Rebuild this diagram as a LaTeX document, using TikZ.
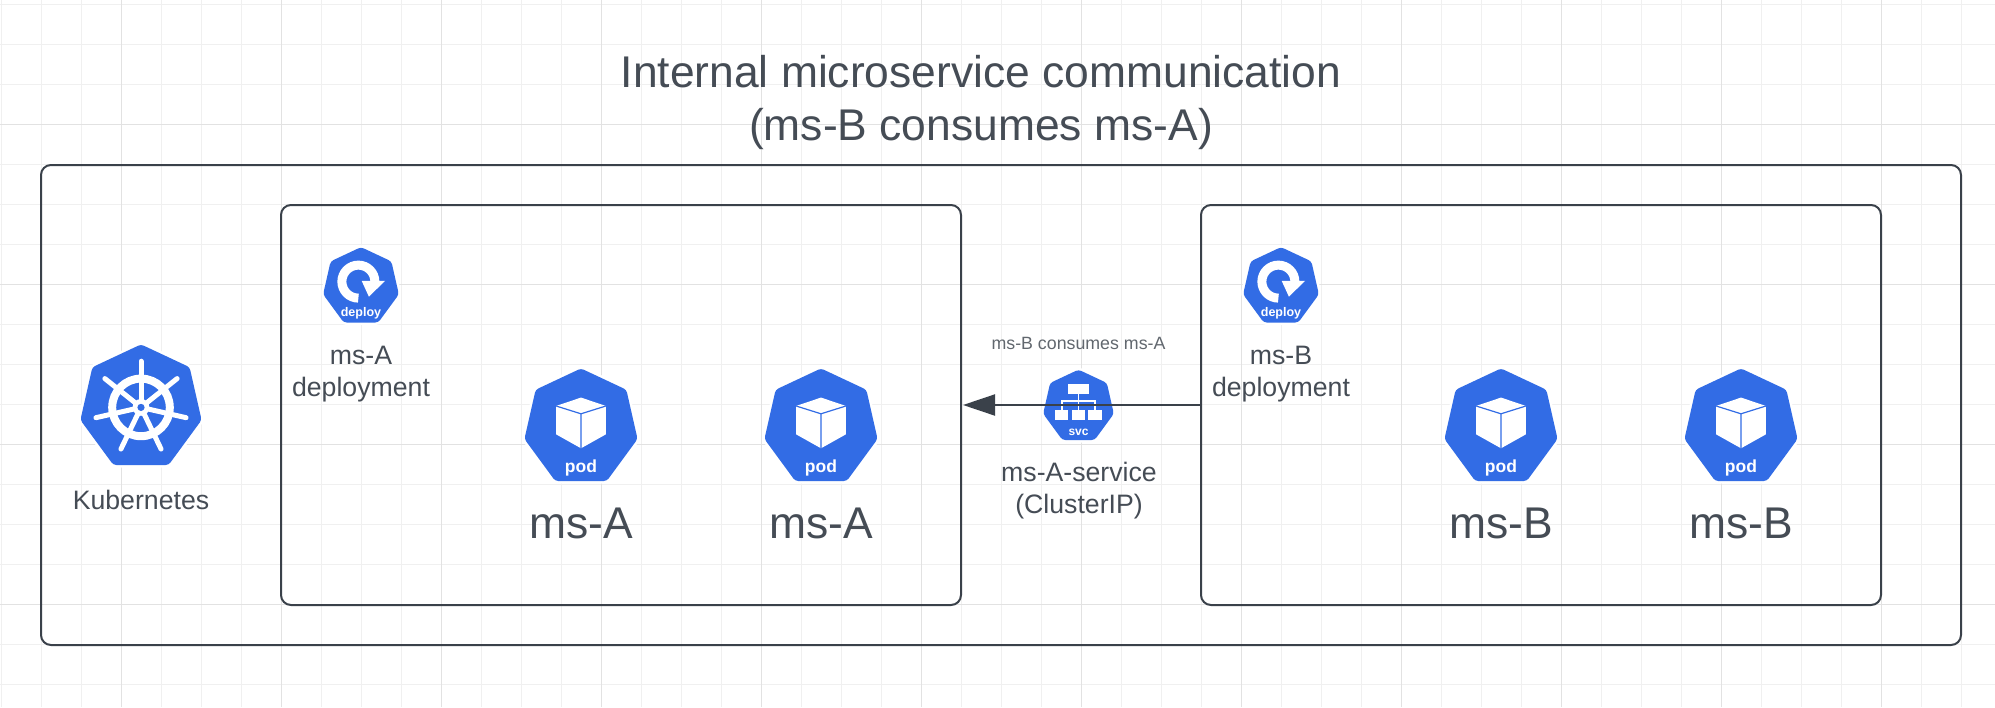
\documentclass[tikz,border=0pt]{standalone}
\usepackage{fontspec}
\usepackage{xcolor}
\usetikzlibrary{arrows.meta}
\setmainfont{Liberation Sans}
\definecolor{kubeBlue}{HTML}{326CE5}
\definecolor{inkGrey}{HTML}{3A414A}
\definecolor{textGrey}{HTML}{454C55}
\definecolor{gridMinor}{HTML}{F0F0F0}
\definecolor{gridMajor}{HTML}{E2E2E2}
\newcommand{\heptapath}{(0,-1.01) -- (.81,-.63) -- (1.01,.25) -- (.46,1) -- (-.46,1) -- (-1.01,.25) -- (-.81,-.63) -- cycle}
\tikzset{
    framebox/.style={draw=inkGrey, line width=2pt, rounded corners=10pt, inner sep=0pt, outer sep=0pt},
    lbltitle/.style={text=textGrey, align=center, font=\fontsize{44.4}{53.3}\selectfont},
    lblbig/.style={text=textGrey, font=\fontsize{44.4}{52}\selectfont},
    lblmid/.style={text=textGrey, align=center, font=\fontsize{26.67}{32}\selectfont},
    lblsmall/.style={text=textGrey!85, font=\fontsize{17.78}{21}\selectfont},
    icontag/.style={text=white, inner sep=0pt, font=\bfseries\fontsize{#1}{#1}\selectfont},
    heptafill/.style={fill=kubeBlue, rounded corners=3pt, preaction={draw=white, line width=5pt}},
    pics/kubeicon/.style={code={
        \begin{scope}[scale=#1]
            \path[heptafill] \heptapath;
            \draw[white, line width=8pt] (0,.04) circle (.48);
            \foreach \i in {0,...,6}
                \draw[white, line width=5pt, line cap=round] (0,.04) -- ++({-90+\i*360/7}:.77);
            \fill[white] (0,.04) circle (.14);
            \fill[kubeBlue] (0,.04) circle (.06);
        \end{scope}
    }},
    pics/podicon/.style={code={
        \begin{scope}[scale=#1]
            \path[heptafill] \heptapath;
            \fill[white] (0,-.49) -- (.446,-.34) -- (.446,.166) -- (0,.416) -- (-.446,.166) -- (-.446,-.34) -- cycle;
            \draw[kubeBlue, line width=1.2pt] (-.446,-.34) -- (0,-.2) -- (.446,-.34) (0,-.2) -- (0,.42);
            \node[icontag=17.5, anchor=base] (tag) at (0,.84) {pod};
        \end{scope}
    }},
    pics/deployicon/.style={code={
        \begin{scope}[scale=#1]
            \path[heptafill] \heptapath;
            \draw[white, line width=9pt] (-.07,.35) arc (90:360:.44);
            \fill[white] (.21,.31) -- (.02,-.107) -- (.64,-.107) -- cycle;
            \node[icontag=12.5, anchor=base] (tag) at (0,.84) {deploy};
        \end{scope}
    }},
    pics/svcicon/.style={code={
        \begin{scope}[scale=#1]
            \path[heptafill] \heptapath;
            \fill[white] (-.29,-.6) rectangle (.29,-.31);
            \draw[white, line width=1.5pt] (0,-.31) -- (0,.14) (-.47,.14) -- (-.47,-.12) -- (.47,-.12) -- (.47,.14);
            \fill[white] (-.66,.14) rectangle (-.29,.43);
            \fill[white] (-.19,.14) rectangle (.18,.43);
            \fill[white] (.28,.14) rectangle (.66,.43);
            \node[icontag=12, anchor=base] (tag) at (0,.86) {svc};
        \end{scope}
    }}
}
\begin{document}
\begin{tikzpicture}[x=1pt, y=-1pt]
    \useasboundingbox (0,0) rectangle (1995,707);
    \fill[white] (0,0) rectangle (1995,707);
    % background grid
    \foreach \x in {1.7,41.7,...,1995} \draw[gridMinor, line width=1pt] (\x,0) -- (\x,707);
    \foreach \y in {4.3,44.3,...,707} \draw[gridMinor, line width=1pt] (0,\y) -- (1995,\y);
    \foreach \x in {121.7,281.7,...,1995} \draw[gridMajor, line width=1pt] (\x,0) -- (\x,707);
    \foreach \y in {124.3,284.3,...,707} \draw[gridMajor, line width=1pt] (0,\y) -- (1995,\y);

    \node[lbltitle, anchor=base] (titleTop) at (981,87.3) {Internal microservice communication};
    \node[lbltitle, anchor=base] (titleSub) at (981,140.7) {(ms-B consumes ms-A)};

    \node[framebox, minimum width=1920pt, minimum height=480pt] (cluster) at (1001,405) {};
    \node[framebox, minimum width=680pt, minimum height=400pt] (msAbox) at (621,405) {};
    \node[framebox, minimum width=680pt, minimum height=400pt] (msBbox) at (1541,405) {};

    \pic (kube) at (141,405) {kubeicon=60};
    \node[lblmid, anchor=base] (kubeLabel) at (141,509.3) {Kubernetes};

    \pic (deployA) at (361,285) {deployicon=37.5};
    \node[lblmid, anchor=base] (deployAtop) at (361,364) {ms-A};
    \node[lblmid, anchor=base] (deployAname) at (361,396) {deployment};
    \pic (deployB) at (1281,285) {deployicon=37.5};
    \node[lblmid, anchor=base] (deployBtop) at (1281,364) {ms-B};
    \node[lblmid, anchor=base] (deployBname) at (1281,396) {deployment};

    \pic (podA1) at (581,425) {podicon=56};
    \pic (podA2) at (821,425) {podicon=56};
    \pic (podB1) at (1501,425) {podicon=56};
    \pic (podB2) at (1741,425) {podicon=56};
    \node[lblbig, anchor=base] (podA1label) at (581,538.5) {ms-A};
    \node[lblbig, anchor=base] (podA2label) at (821,538.5) {ms-A};
    \node[lblbig, anchor=base] (podB1label) at (1501,538.5) {ms-B};
    \node[lblbig, anchor=base] (podB2label) at (1741,538.5) {ms-B};

    \pic (svcA) at (1078.5,405) {svcicon=35};
    \node[lblsmall, anchor=base] (consumeLabel) at (1078.5,349.3) {ms-B consumes ms-A};
    \node[lblmid, anchor=base] (svcTop) at (1079,481.7) {ms-A-service};
    \node[lblmid, anchor=base] (svcType) at (1079,513.3) {(ClusterIP)};

    \draw[-{Triangle[length=32pt,width=21pt]}, inkGrey, line width=2pt, shorten >=2pt] (msBbox.west) -- (msAbox.east);
\end{tikzpicture}
\end{document}
